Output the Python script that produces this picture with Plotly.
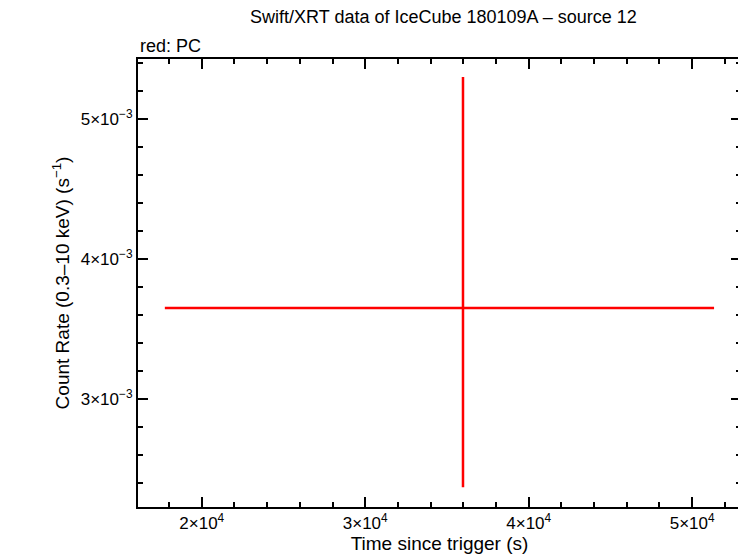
import plotly.graph_objects as go

# data
x = [35980]
x_lo = [18240]   # distance to left end of x error bar
x_hi = [15360]
y = [3.65e-3]
y_err_plus = [1.65e-3]
y_err_minus = [1.28e-3]

xticks = [2e4, 3e4, 4e4, 5e4]
xticklabels = ["2×10<sup>4</sup>", "3×10<sup>4</sup>", "4×10<sup>4</sup>", "5×10<sup>4</sup>"]
yticks = [3e-3, 4e-3, 5e-3]
yticklabels = ["3×10<sup>−3</sup>", "4×10<sup>−3</sup>", "5×10<sup>−3</sup>"]

fig = go.Figure()
fig.add_trace(go.Scatter(
    x=x, y=y, mode="markers",
    marker=dict(color="red", size=1),
    error_x=dict(type="data", symmetric=False, array=x_hi, arrayminus=x_lo,
                 color="red", thickness=2.5, width=0),
    error_y=dict(type="data", symmetric=False, array=y_err_plus, arrayminus=y_err_minus,
                 color="red", thickness=2.5, width=0),
    showlegend=False,
))

axis_style = dict(
    showgrid=False, zeroline=False, showline=True, linecolor="black", linewidth=2,
    mirror="allticks", ticks="inside", ticklen=10, tickwidth=1.5, tickcolor="black",
    minor=dict(ticks="inside", ticklen=5, tickcolor="black", tickwidth=1.5),
    tickfont=dict(size=17, color="black"),
)

fig.update_layout(
    width=738, height=550,
    paper_bgcolor="white", plot_bgcolor="white",
    font=dict(family="Liberation Sans, Arial, sans-serif", color="black"),
    margin=dict(l=130, r=3, t=51, b=51),
    title=dict(text="Swift/XRT data of IceCube 180109A – source 12",
               x=0.59, xanchor="center", y=0.995, yanchor="top", font=dict(size=18)),
    annotations=[dict(text="red: PC", xref="paper", yref="paper", x=0, y=1.003,
                      xanchor="left", yanchor="bottom", showarrow=False, font=dict(size=18))],
    xaxis=dict(axis_style, range=[16098, 52988], tickvals=xticks, ticktext=xticklabels,
               minor=dict(axis_style["minor"], dtick=2000, tick0=0),
               title=dict(text="Time since trigger (s)", font=dict(size=19), standoff=2)),
    yaxis=dict(axis_style, range=[2.2286e-3, 5.4286e-3], tickvals=yticks, ticktext=yticklabels,
               minor=dict(axis_style["minor"], dtick=2e-4, tick0=0),
               title=dict(text="Count Rate (0.3–10 keV) (s<sup>−1</sup>)", font=dict(size=19), standoff=6)),
)

fig.write_html("out.html")
